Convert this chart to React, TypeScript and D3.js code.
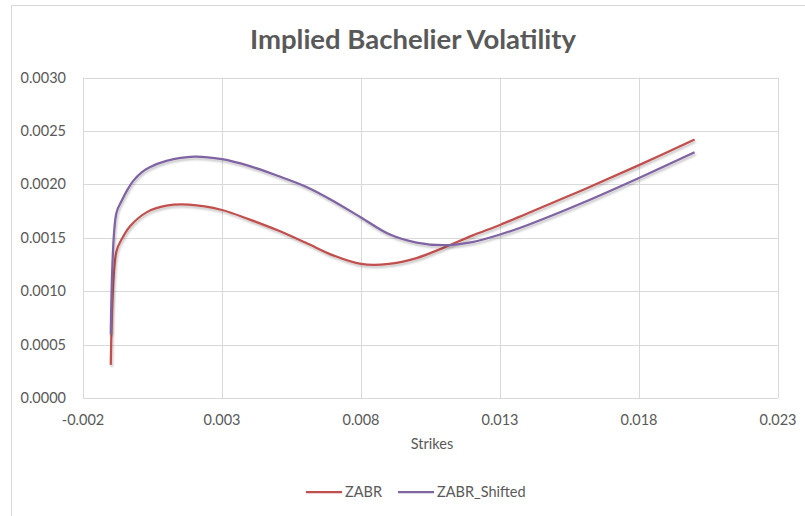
import React from "react";
import * as d3 from "d3";

const zabrStrikes = [-0.001, -0.0008, -0.0006, -0.0003, 0.0003, 0.001, 0.0018, 0.003, 0.004, 0.005, 0.006, 0.007, 0.008, 0.009, 0.01, 0.011, 0.012, 0.013, 0.014, 0.016, 0.018, 0.02];
const zabrVols = [0.00031, 0.00137, 0.00149, 0.00161, 0.00174, 0.0018, 0.00181, 0.00176, 0.00167, 0.00157, 0.001455, 0.001335, 0.001255, 0.001255, 0.00131, 0.00141, 0.00152, 0.00162, 0.00173, 0.00195, 0.00218, 0.00242];

const shiftedStrikes = [-0.001, -0.0008, -0.0006, -0.0004, -0.0002, 0.0001, 0.0004, 0.001, 0.002, 0.003, 0.004, 0.005, 0.006, 0.007, 0.008, 0.009, 0.01, 0.011, 0.012, 0.013, 0.014, 0.016, 0.018, 0.02];
const shiftedVols = [0.0006, 0.00173, 0.00185, 0.00195, 0.00203, 0.00211, 0.00216, 0.00222, 0.00226, 0.002235, 0.00217, 0.00208, 0.00198, 0.001845, 0.00169, 0.001535, 0.001455, 0.00143, 0.00146, 0.00153, 0.00162, 0.00183, 0.00206, 0.0023];

const xTicks = [-0.002, 0.003, 0.008, 0.013, 0.018, 0.023];
const xTickLabels = ["-0.002", "0.003", "0.008", "0.013", "0.018", "0.023"];
const yTicks = [0, 0.0005, 0.001, 0.0015, 0.002, 0.0025, 0.003];
const yTickLabels = ["0.0000", "0.0005", "0.0010", "0.0015", "0.0020", "0.0025", "0.0030"];

const seriesNames = ["ZABR", "ZABR_Shifted"];
const seriesColors = ["#C0504D", "#8064A2"];

export default function App() {
  const W = 805, H = 516;
  const x = d3.scaleLinear().domain([-0.002, 0.023]).range([83, 778]);
  const y = d3.scaleLinear().domain([0, 0.003]).range([398, 77.5]);
  const line = d3
    .line<[number, number]>()
    .x((d) => x(d[0]))
    .y((d) => y(d[1]))
    .curve(d3.curveCatmullRom.alpha(0.5));
  const series = [
    zabrStrikes.map((s, i) => [s, zabrVols[i]] as [number, number]),
    shiftedStrikes.map((s, i) => [s, shiftedVols[i]] as [number, number]),
  ];
  const font = "Lato, 'Open Sans', sans-serif";
  const grid = "#d9d9d9";
  const txt = "#595959";
  return (
    <svg width={W} height={H} style={{ position: "absolute", left: 0, top: 0 }} fontFamily={font}>
      <defs>
        <filter id="sh" x="-10%" y="-10%" width="120%" height="130%">
          <feDropShadow dx="1" dy="2" stdDeviation="1.2" floodColor="#000" floodOpacity="0.25" />
        </filter>
      </defs>
      <rect x={0} y={0} width={W} height={H} fill="#fff" />
      <rect x={11.5} y={5.5} width={810} height={520} fill="#fff" stroke={grid} strokeWidth={1} />
      <text x={413} y={49} textAnchor="middle" fontSize={27.5} fontWeight="bold" fill={txt}>
        Implied Bachelier Volatility
      </text>
      {yTicks.map((t) => (
        <line key={"gy" + t} x1={83} x2={778} y1={Math.round(y(t)) + 0.5} y2={Math.round(y(t)) + 0.5} stroke={grid} strokeWidth={1} />
      ))}
      {xTicks.map((t) => (
        <line key={"gx" + t} x1={Math.round(x(t)) + 0.5} x2={Math.round(x(t)) + 0.5} y1={y(0.003)} y2={y(0)} stroke={grid} strokeWidth={1} />
      ))}
      {yTicks.map((t, i) => (
        <text key={"ly" + t} x={66} y={y(t)} dy="0.35em" textAnchor="end" fontSize={14.5} fill={txt}>
          {yTickLabels[i]}
        </text>
      ))}
      {xTicks.map((t, i) => (
        <text key={"lx" + t} x={x(t)} y={420} dy="0.35em" textAnchor="middle" fontSize={14.5} fill={txt}>
          {xTickLabels[i]}
        </text>
      ))}
      <text x={432} y={444} dy="0.35em" textAnchor="middle" fontSize={14.5} fill={txt}>
        Strikes
      </text>
      {series.map((s, i) => (
        <path key={"s" + i} d={line(s) || ""} fill="none" stroke={seriesColors[i]} strokeWidth={2.25} filter="url(#sh)" />
      ))}
      {seriesNames.map((n, i) => {
        const lx = i === 0 ? 306 : 398;
        return (
          <g key={"lg" + n}>
            <line x1={lx} x2={lx + 36} y1={492} y2={492} stroke={seriesColors[i]} strokeWidth={2.25} />
            <text x={lx + 39} y={492} dy="0.35em" fontSize={14.5} fill={txt}>
              {n}
            </text>
          </g>
        );
      })}
    </svg>
  );
}
